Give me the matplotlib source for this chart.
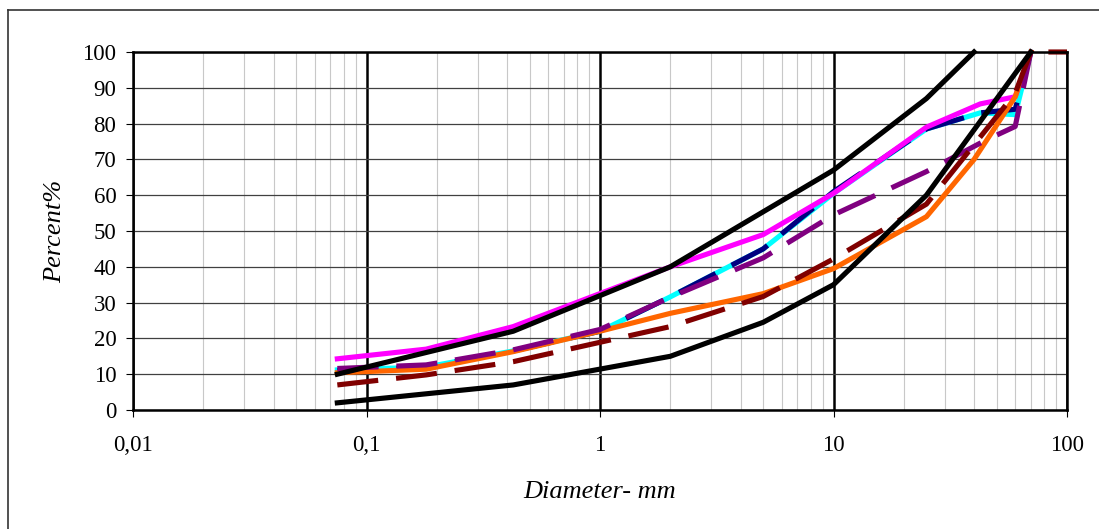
import matplotlib
matplotlib.use('Agg')
import matplotlib.pyplot as plt
from matplotlib.lines import Line2D
from matplotlib.ticker import LogLocator, NullFormatter

plt.rcParams['font.family'] = ['Liberation Serif', 'DejaVu Serif']

# grain size curves (diameter mm, percent passing)
upper_x = [0.075, 0.425, 2, 10, 25, 40]
upper_y = [10, 22, 40, 67, 87, 100]

lower_x = [0.075, 0.425, 2, 5, 10, 25, 70]
lower_y = [2, 7, 15, 24.5, 35, 60, 100]

magenta_x = [0.075, 0.18, 0.425, 2, 5, 10, 25, 42.5, 60, 70]
magenta_y = [14.3, 17, 23.3, 40, 49, 60.5, 79, 85.5, 87.5, 100]

cyan_x = [0.075, 0.18, 0.425, 1, 2, 5, 10, 25, 42.5, 60, 70]
cyan_y = [11.2, 12, 16.5, 22, 31.6, 45, 60.5, 78.5, 83, 82.5, 100]

navy_x = [0.075, 0.18, 0.425, 1, 2, 5, 10, 25, 42.5, 60, 70]
navy_y = [11, 12, 16.5, 22, 31.6, 45, 61, 78.5, 83, 84, 100]

orange_x = [0.075, 0.18, 0.425, 1, 2, 5, 10, 25, 40, 60, 70]
orange_y = [10.4, 11.4, 16.3, 22, 27, 32.5, 39.5, 54, 70, 87.5, 100]

purple_x = [0.075, 0.18, 0.425, 1, 2, 5, 10, 25, 45, 60, 70]
purple_y = [11.6, 12.6, 16.8, 22.5, 31.5, 42.5, 54.5, 66.6, 75.4, 79.2, 100]

darkred_x = [0.075, 0.18, 0.425, 2, 5, 10, 25, 50, 60, 70, 100]
darkred_y = [7, 9.8, 13.5, 23.3, 31.7, 42.2, 57.5, 82, 88.5, 100, 100]

xticks = [0.01, 0.1, 1, 10, 100]
xtick_labels = ['0,01', '0,1', '1', '10', '100']
yticks = list(range(0, 101, 10))

fig = plt.figure(figsize=(10.99, 5.29), dpi=100)
ax = fig.add_axes([133/1099, 1-410/529, (1067-133)/1099, (410-52)/529])

lw = 3.7
dash = (8, 3.5)
ax.plot(cyan_x, cyan_y, color='#00FFFF', lw=lw, clip_on=False)
ax.plot(navy_x, navy_y, color='#000080', lw=lw, dashes=dash, clip_on=False)
ax.plot(magenta_x, magenta_y, color='#FF00FF', lw=lw, clip_on=False)
ax.plot(orange_x, orange_y, color='#FF6600', lw=lw, clip_on=False)
ax.plot(purple_x, purple_y, color='#800080', lw=lw, dashes=dash, clip_on=False)
ax.plot(darkred_x, darkred_y, color='#800000', lw=lw, dashes=dash, clip_on=False)
ax.plot(upper_x, upper_y, color='black', lw=lw, clip_on=False)
ax.plot(lower_x, lower_y, color='black', lw=lw, clip_on=False)

ax.set_xscale('log')
ax.set_xlim(0.01, 100)
ax.set_ylim(0, 100)
ax.set_xticks(xticks)
ax.set_xticklabels(xtick_labels)
ax.xaxis.set_minor_locator(LogLocator(base=10, subs=range(2, 10)))
ax.xaxis.set_minor_formatter(NullFormatter())
ax.set_yticks(yticks)

ax.grid(True, which='minor', axis='x', color='#c8c8c8', lw=0.8, zorder=0)
ax.grid(True, which='major', axis='x', color='black', lw=1.8, zorder=0)
ax.grid(True, which='major', axis='y', color='#404040', lw=0.9, zorder=0)
ax.set_axisbelow(True)

ax.tick_params(axis='both', which='major', direction='out', length=5,
               width=0.8, labelsize=16.5, colors='black')
ax.tick_params(axis='y', pad=7)
ax.tick_params(axis='x', pad=13)
ax.tick_params(axis='x', which='minor', length=0)
for s in ax.spines.values():
    s.set_linewidth(1.8)
    s.set_color('black')

ax.set_xlabel('Diameter- mm', fontsize=19, style='italic', labelpad=18)
ax.set_ylabel('Percent%', fontsize=19, style='italic', labelpad=12)

# outer chart frame (only left and top edges fall inside the picture)
fig.add_artist(Line2D([8/1099, 8/1099], [0, 1-10/529], color='#333333', lw=1.2))
fig.add_artist(Line2D([8/1099, 1], [1-10/529, 1-10/529], color='#333333', lw=1.2))

fig.savefig('out.png', dpi=100)
